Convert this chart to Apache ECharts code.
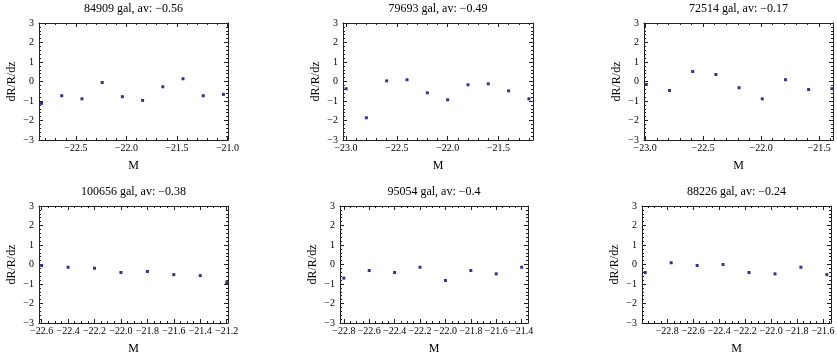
<!DOCTYPE html>
<html>
<head>
<meta charset="utf-8">
<script src="https://cdn.jsdelivr.net/npm/echarts@6/dist/echarts.min.js"></script>
<style>
  html, body { margin: 0; padding: 0; background: #fff; }
  #chart { width: 837px; height: 354px; }
</style>
</head>
<body>
<div id="chart"></div>
<script>
// panel titles
const titles = [
  "84909 gal, av: \u22120.56",
  "79693 gal, av: \u22120.49",
  "72514 gal, av: \u22120.17",
  "100656 gal, av: \u22120.38",
  "95054 gal, av: \u22120.4",
  "88226 gal, av: \u22120.24",
];

// M values (x) and dR/R/dz values (y) per panel
const m1 = [-22.84, -22.64, -22.44, -22.24, -22.04, -21.84, -21.64, -21.44, -21.24, -21.04];
const r1 = [-1.12, -0.73, -0.89, -0.05, -0.78, -0.97, -0.27, 0.14, -0.73, -0.66];
const m2 = [-23.0, -22.8, -22.6, -22.4, -22.2, -22.0, -21.8, -21.6, -21.4, -21.2];
const r2 = [-0.37, -1.86, 0.03, 0.09, -0.58, -0.94, -0.17, -0.12, -0.48, -0.89];
const m3 = [-22.99, -22.79, -22.59, -22.39, -22.19, -21.99, -21.79, -21.59, -21.39];
const r3 = [-0.15, -0.46, 0.51, 0.36, -0.32, -0.89, 0.09, -0.41, -0.37];
const m4 = [-22.6, -22.4, -22.2, -22.0, -21.8, -21.6, -21.4, -21.2];
const r4 = [-0.05, -0.14, -0.19, -0.41, -0.36, -0.52, -0.57, -0.93];
const m5 = [-22.8, -22.6, -22.4, -22.2, -22.0, -21.8, -21.6, -21.4];
const r5 = [-0.7, -0.31, -0.41, -0.14, -0.82, -0.31, -0.48, -0.14];
const m6 = [-22.97, -22.77, -22.57, -22.37, -22.17, -21.97, -21.77, -21.57];
const r6 = [-0.41, 0.09, -0.05, 0.0, -0.41, -0.48, -0.14, -0.52];

const mValues = [m1, m2, m3, m4, m5, m6];
const rValues = [r1, r2, r3, r4, r5, r6];

// x axis ranges and labelled ticks
const xMin = [-22.865, -23.03, -23.01, -22.62, -22.83, -22.995];
const xMax = [-20.995, -21.16, -21.38, -21.19, -21.35, -21.538];
const xTicks1 = [-22.5, -22.0, -21.5, -21.0];
const xTicks2 = [-23.0, -22.5, -22.0, -21.5];
const xTicks3 = [-23.0, -22.5, -22.0, -21.5];
const xTicks4 = [-22.6, -22.4, -22.2, -22.0, -21.8, -21.6, -21.4, -21.2];
const xTicks5 = [-22.8, -22.6, -22.4, -22.2, -22.0, -21.8, -21.6, -21.4];
const xTicks6 = [-22.8, -22.6, -22.4, -22.2, -22.0, -21.8, -21.6];
const xTicks = [xTicks1, xTicks2, xTicks3, xTicks4, xTicks5, xTicks6];
const xMinorStep = [0.1, 0.1, 0.1, 0.05, 0.05, 0.05];

const yMin = -3, yMax = 3, yStep = 1;

// plot boxes in pixels
const boxes = [
  { left: 39, top: 23, width: 189, height: 117 },
  { left: 343, top: 23, width: 190, height: 117 },
  { left: 644, top: 23, width: 189, height: 117 },
  { left: 39, top: 206, width: 189, height: 117 },
  { left: 340, top: 206, width: 188, height: 117 },
  { left: 642, top: 206, width: 189, height: 117 },
];

const serif = "'Liberation Serif', 'DejaVu Serif', serif";
const frameColor = "#222";
const pointColor = "#33338f";
const minus = (v) => String(v).replace("-", "\u2212");

function minorTicks(i) {
  const step = xMinorStep[i];
  const out = [];
  let k = Math.ceil(xMin[i] / step - 1e-9);
  for (; k * step <= xMax[i] + 1e-9; k++) {
    const v = +(k * step).toFixed(3);
    if (!xTicks[i].some((t) => Math.abs(t - v) < 1e-6)) out.push(v);
  }
  return out;
}

const grid = [], xAxis = [], yAxis = [], series = [], title = [];

boxes.forEach((b, i) => {
  grid.push({ left: b.left, top: b.top, width: b.width, height: b.height, containLabel: false, outerBoundsMode: "none" });

  title.push({
    text: titles[i],
    left: b.left + b.width / 2,
    top: b.top - 20,
    textAlign: "center",
    padding: 0,
    textStyle: { fontFamily: serif, fontSize: 12, fontWeight: "normal", color: "#000" },
  });

  const minors = minorTicks(i);
  const base = {
    type: "value",
    gridIndex: i,
    min: xMin[i],
    max: xMax[i],
    splitLine: { show: false },
  };
  // bottom, labelled
  xAxis.push({
    ...base,
    position: "bottom",
    name: "M",
    nameLocation: "middle",
    nameGap: 20,
    nameTextStyle: { fontFamily: serif, fontSize: 12, color: "#000" },
    axisLine: { show: true, onZero: false, lineStyle: { color: frameColor, width: 1 } },
    axisTick: { show: true, inside: true, length: 4, customValues: xTicks[i], lineStyle: { color: frameColor } },
    axisLabel: {
      show: true, margin: 3, customValues: xTicks[i],
      formatter: (v) => minus(v.toFixed(1)),
      fontFamily: serif, fontSize: 10, color: "#000",
    },
  });
  // bottom, minor ticks
  xAxis.push({
    ...base,
    position: "bottom",
    axisLine: { show: false, onZero: false },
    axisTick: { show: true, inside: true, length: 2, customValues: minors, lineStyle: { color: frameColor } },
    axisLabel: { show: false },
  });
  // top frame
  xAxis.push({
    ...base,
    position: "top",
    axisLine: { show: true, onZero: false, lineStyle: { color: frameColor, width: 1 } },
    axisTick: { show: true, inside: true, length: 4, customValues: xTicks[i], lineStyle: { color: frameColor } },
    axisLabel: { show: false },
  });
  xAxis.push({
    ...base,
    position: "top",
    axisLine: { show: false, onZero: false },
    axisTick: { show: true, inside: true, length: 2, customValues: minors, lineStyle: { color: frameColor } },
    axisLabel: { show: false },
  });

  const ybase = {
    type: "value",
    gridIndex: i,
    min: yMin,
    max: yMax,
    interval: yStep,
    splitLine: { show: false },
    axisLine: { show: true, onZero: false, lineStyle: { color: frameColor, width: 1 } },
    axisTick: { show: true, inside: true, length: 4, lineStyle: { color: frameColor } },
    minorTick: { show: true, splitNumber: 5, length: 2, lineStyle: { color: frameColor } },
  };
  yAxis.push({
    ...ybase,
    position: "left",
    name: "dR/R/dz",
    nameLocation: "middle",
    nameGap: 21,
    nameRotate: 90,
    nameTextStyle: { fontFamily: serif, fontSize: 12, color: "#000" },
    axisLabel: { show: true, margin: 5, formatter: minus, fontFamily: serif, fontSize: 10, color: "#000" },
  });
  yAxis.push({
    ...ybase,
    position: "right",
    axisLabel: { show: false },
  });

  series.push({
    type: "scatter",
    xAxisIndex: i * 4,
    yAxisIndex: i * 2,
    symbol: "rect",
    symbolSize: 3,
    itemStyle: { color: pointColor, opacity: 1 },
    data: mValues[i].map((m, k) => [m, rValues[i][k]]),
    silent: true,
  });
});

const chart = echarts.init(document.getElementById("chart"));
chart.setOption({
  animation: false,
  backgroundColor: "#fff",
  title,
  grid,
  xAxis,
  yAxis,
  series,
});

window.addEventListener("resize", () => {
  chart.resize();
});
</script>
</body>
</html>
